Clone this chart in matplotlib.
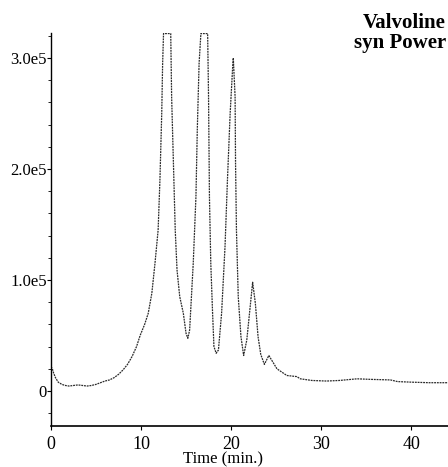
import matplotlib
matplotlib.use("Agg")
import matplotlib.pyplot as plt
from matplotlib.ticker import FixedLocator, FixedFormatter, MultipleLocator

# --- data (time in minutes, signal in counts) ---
time_min = [0.0, 0.15, 0.3, 0.5, 0.8, 1.2, 1.6, 2.0, 2.5, 3.0, 3.5, 4.0, 4.5, 5.0,
            5.5, 6.0, 6.5, 7.0, 7.5, 8.0, 8.5, 9.0, 9.5, 9.9, 10.4, 10.8, 11.2,
            11.55, 11.9, 12.1, 12.3, 12.4, 12.5, 13.3, 13.4, 13.6, 13.8, 14.0,
            14.3, 14.7, 15.0, 15.2, 15.4, 15.8, 16.1, 16.25, 16.45, 16.65, 17.4,
            17.5, 17.6, 17.75, 17.95, 18.1, 18.35, 18.6, 18.95, 19.33, 19.6, 19.9,
            20.2, 20.25, 20.45, 20.5, 20.6, 20.8, 21.1, 21.4, 21.75, 22.05, 22.4,
            22.7, 23.0, 23.3, 23.7, 24.2, 24.5, 25.1, 26.2, 27.3, 27.7, 29.0,
            30.6, 32.0, 34.0, 35.5, 37.7, 38.5, 40.0, 42.0, 44.1]
signal = [22000, 20000, 16000, 12000, 8000, 6000, 5000, 4500, 5000, 5500, 5000,
          4500, 5000, 6000, 7500, 9000, 10000, 12000, 15000, 19000, 24000, 31000,
          40000, 50000, 60000, 70000, 88000, 115000, 145000, 190000, 250000,
          295000, 322000, 322000, 265000, 205000, 145000, 109000, 85000, 70000,
          52000, 47500, 55000, 115000, 175000, 235000, 295000, 322000, 322000,
          265000, 175000, 115000, 70000, 40000, 34000, 37000, 70000, 130000,
          190000, 250000, 295000, 300000, 265000, 205000, 145000, 85000, 49000,
          32000, 46000, 70000, 98000, 79000, 49000, 33000, 24000, 32000, 28000,
          20000, 14000, 13000, 11000, 9500, 9000, 9500, 11000, 10500, 10000,
          8500, 8000, 7500, 7500]

x_ticks = [0, 10, 20, 30, 40]
y_ticks = [0, 100000, 200000, 300000]
y_tick_labels = ["0", "1.0e5", "2.0e5", "3.0e5"]

W, H = 448, 467
fig = plt.figure(figsize=(W / 100, H / 100), dpi=100)
plt.rcParams['font.family'] = ['Liberation Serif', 'DejaVu Serif']

left, right, top, bottom = 51, 448, 33, 426
ax = fig.add_axes([left / W, 1 - bottom / H, (right - left) / W, (bottom - top) / H])

ax.plot(time_min, signal, color='#2a2a2a', lw=0.9, linestyle=(0, (1.5, 0.7)))

ax.set_xlim(0, 44.1)
ax.set_ylim(-31500, 322500)

for s in ['top', 'right']:
    ax.spines[s].set_visible(False)
ax.spines['left'].set_linewidth(1.0)
ax.spines['bottom'].set_linewidth(1.2)

ax.xaxis.set_major_locator(FixedLocator(x_ticks))
ax.set_xticklabels([str(v) for v in x_ticks], fontsize=13)
ax.yaxis.set_major_locator(FixedLocator(y_ticks))
ax.yaxis.set_major_formatter(FixedFormatter(y_tick_labels))
ax.yaxis.set_minor_locator(MultipleLocator(20000))
ax.tick_params(axis='y', which='major', labelsize=12, length=3, pad=0, direction='out')
ax.tick_params(axis='y', which='minor', length=2, direction='out')
ax.tick_params(axis='x', which='major', length=3, pad=4, direction='out')

ax.set_xlabel("Time (min.)", fontsize=12, labelpad=-3)
ax.xaxis.set_label_coords((223 - left) / (right - left), -0.065)

fig.text(446 / W, 1 - 28 / H, "Valvoline", ha='right', va='baseline',
         fontsize=15, fontweight='bold')
fig.text(446 / W, 1 - 48 / H, "syn Power", ha='right', va='baseline',
         fontsize=15, fontweight='bold')

fig.savefig("out.png", dpi=100)
